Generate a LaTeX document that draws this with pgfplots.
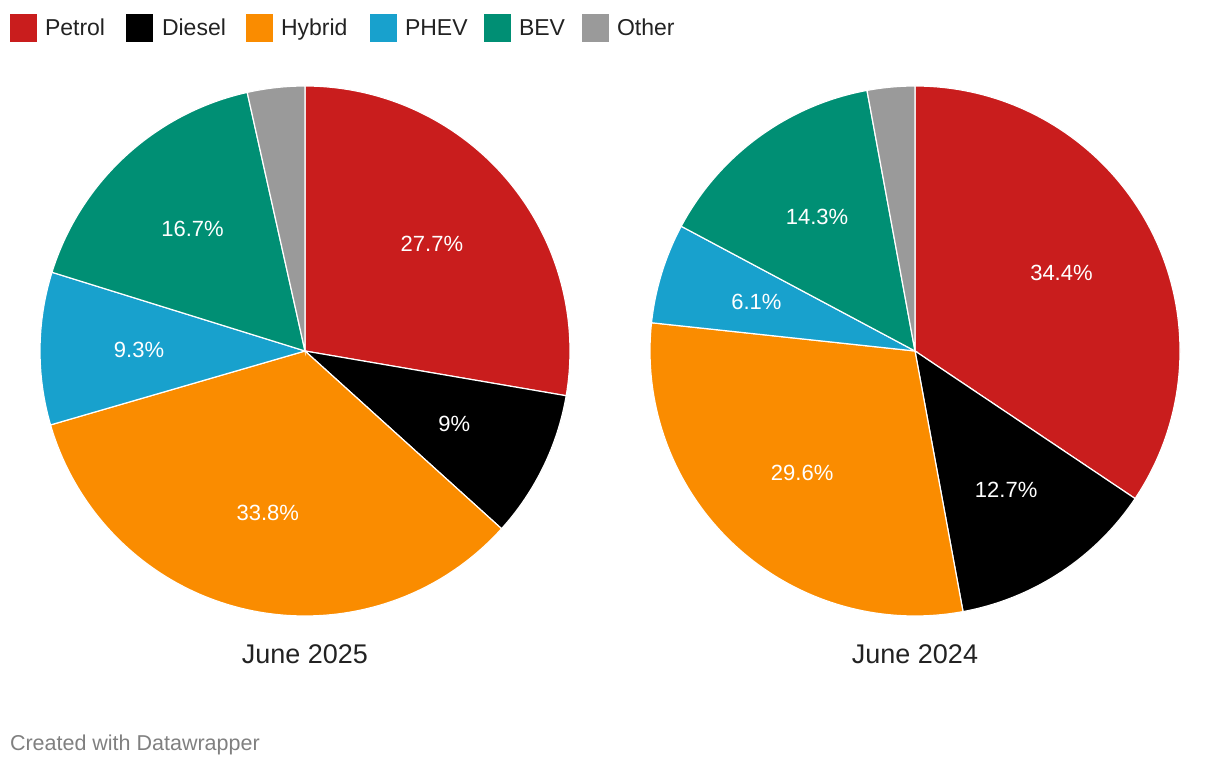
\documentclass[border=0pt]{standalone}
\usepackage{pgfplots}
\pgfplotsset{compat=1.18}
\usepackage{pgfplotstable}
\usepackage{fontspec}
\setmainfont{Liberation Sans}

\definecolor{cPetrol}{HTML}{C91D1D}
\definecolor{cDiesel}{HTML}{000000}
\definecolor{cHybrid}{HTML}{FA8C00}
\definecolor{cPHEV}{HTML}{18A1CD}
\definecolor{cBEV}{HTML}{008F74}
\definecolor{cOther}{HTML}{9A9A9A}
\definecolor{txt}{HTML}{222222}

% shares in percent, June 2025 and June 2024
\pgfplotstableread{
name   value
Petrol 27.7
Diesel 9
Hybrid 33.8
PHEV   9.3
BEV    16.7
Other  3.5
}\tabA
\pgfplotstableread{
name   value
Petrol 34.4
Diesel 12.7
Hybrid 29.6
PHEV   6.1
BEV    14.3
Other  2.9
}\tabB

% #1 table, #2 #3 centre in axis units
\newcommand\drawpie[3]{%
  \def\cum{0}%
  \pgfplotsforeachungrouped \i in {0,...,5}{%
    \pgfplotstablegetelem{\i}{value}\of{#1}\let\v\pgfplotsretval
    \pgfplotstablegetelem{\i}{name}\of{#1}\let\n\pgfplotsretval
    \pgfmathsetmacro\aS{90-3.6*\cum}%
    \pgfmathsetmacro\aE{90-3.6*(\cum+\v)}%
    \pgfmathsetmacro\aM{(\aS+\aE)/2}%
    \pgfmathsetmacro\cum{\cum+\v}%
    \fill[c\n, draw=white, line width=1.2pt] (axis cs:#2,#3) -- ++(\aS:265pt)
      arc[start angle=\aS, end angle=\aE, radius=265pt] -- cycle;
    \ifdim\v pt>5pt
      \path (axis cs:#2,#3) ++(\aM:166pt) node[white, font=\fontsize{22}{26}\selectfont] {\v\%};
    \fi
  }%
}

\tikzset{lbl/.style={txt, anchor=base west, inner sep=0pt, outer sep=0pt, font=\fontsize{23}{27}\selectfont}}

\begin{document}
\begin{tikzpicture}
\path[use as bounding box] (0,0) rectangle (1220pt,766pt);
\begin{axis}[
  at={(0,0)}, anchor=south west,
  scale only axis, width=1220pt, height=766pt,
  xmin=0, xmax=1220, ymin=0, ymax=766,
  hide axis, clip=false,
]
\pgfplotsextra{%
  \drawpie{\tabA}{305}{415}%
  \drawpie{\tabB}{915}{415}%
}
% titles
\node[txt, anchor=base, inner sep=0pt, font=\fontsize{27}{31}\selectfont] at (axis cs:305,103) {June 2025};
\node[txt, anchor=base, inner sep=0pt, font=\fontsize{27}{31}\selectfont] at (axis cs:915,103) {June 2024};
% legend
\fill[cPetrol] (axis cs:10,724) rectangle (axis cs:37,752);
\node[lbl] at (axis cs:45,730) {Petrol};
\fill[cDiesel] (axis cs:126,724) rectangle (axis cs:153,752);
\node[lbl] at (axis cs:162,730) {Diesel};
\fill[cHybrid] (axis cs:246,724) rectangle (axis cs:273,752);
\node[lbl] at (axis cs:281,730) {Hybrid};
\fill[cPHEV] (axis cs:370,724) rectangle (axis cs:397,752);
\node[lbl] at (axis cs:405,730) {PHEV};
\fill[cBEV] (axis cs:484,724) rectangle (axis cs:511,752);
\node[lbl] at (axis cs:519,730) {BEV};
\fill[cOther] (axis cs:582,724) rectangle (axis cs:609,752);
\node[lbl] at (axis cs:617,730) {Other};
% footer
\node[anchor=base west, inner sep=0pt, outer sep=0pt, text=black!50, font=\fontsize{21.5}{25}\selectfont] at (axis cs:10,16) {Created with Datawrapper};
\end{axis}
\end{tikzpicture}
\end{document}
